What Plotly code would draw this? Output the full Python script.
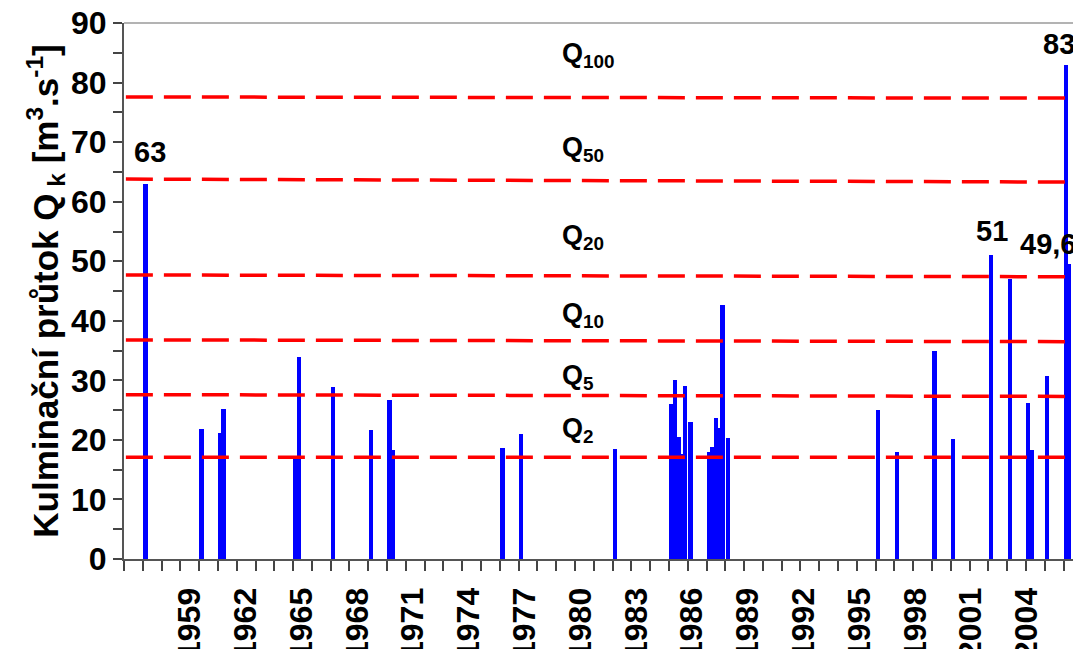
import plotly.graph_objects as go

# ---- data ----
event_dates = [1957.14, 1960.12, 1961.10, 1961.30, 1965.12, 1965.31, 1967.13,
               1969.13, 1970.13, 1970.33, 1976.14, 1977.14, 1982.14,
               1985.14, 1985.31, 1985.54, 1985.68, 1985.84, 1986.15,
               1987.14, 1987.32, 1987.50, 1987.66, 1987.85, 1988.15,
               1996.14, 1997.13, 1999.14, 2000.13, 2002.13, 2003.14,
               2004.11, 2004.31, 2005.13, 2006.13, 2006.29]
peak_flows = [63.0, 21.9, 21.2, 25.2, 16.8, 33.9, 28.9,
              21.7, 26.7, 18.3, 18.7, 21.0, 18.4,
              26.1, 30.0, 20.5, 17.7, 29.0, 23.0,
              18.0, 18.8, 23.6, 22.0, 42.6, 20.3,
              25.0, 17.9, 34.9, 20.2, 51.0, 47.1,
              26.2, 18.3, 30.8, 83.0, 49.6]

q_names = ["2", "5", "10", "20", "50", "100"]
q_left = [17.1, 27.6, 36.8, 47.7, 63.8, 77.6]
q_right = [17.1, 27.3, 36.5, 47.4, 63.3, 77.4]

year_labels = [1959, 1962, 1965, 1968, 1971, 1974, 1977, 1980, 1983,
               1986, 1989, 1992, 1995, 1998, 2001, 2004]

value_labels = ["63", "51", "49,6", "83"]
value_label_x = [1957.4, 2002.2, 2005.2, 2005.76]
value_label_y = [68.4, 55.1, 52.9, 86.5]

# ---- figure ----
# the page adds an 8 px body margin, so the figure is sized/offset to compensate
X0, X1 = 1956.0, 2006.93
FONT = "Liberation Sans"

fig = go.Figure()
fig.add_trace(go.Bar(x=event_dates, y=peak_flows, width=0.23,
                     marker=dict(color="#0000FF", line=dict(width=0)),
                     showlegend=False, hoverinfo="x+y"))

for name, yl, yr in zip(q_names, q_left, q_right):
    fig.add_trace(go.Scatter(x=[X0 + 0.1, X1], y=[yl, yr], mode="lines",
                             line=dict(color="#FF0000", width=3.5, dash="27px,11px"),
                             showlegend=False, hoverinfo="skip"))

q_label_y = [21.7, 30.6, 40.9, 54.1, 68.8, 84.6]
for name, ly in zip(q_names, q_label_y):
    fig.add_annotation(x=1979.2, y=ly, xref="x", yref="y", xanchor="left", yanchor="middle",
                       text="Q<sub>" + name + "</sub>", showarrow=False,
                       font=dict(family=FONT, size=27, color="black", weight="bold"))

for t, lx, ly in zip(value_labels, value_label_x, value_label_y):
    fig.add_annotation(x=lx, y=ly, xref="x", yref="y", xanchor="center", yanchor="middle",
                       text=t, showarrow=False,
                       font=dict(family=FONT, size=29, color="black", weight="bold"))

fig.add_shape(type="line", xref="paper", yref="paper", x0=0, x1=1, y0=1, y1=1,
              line=dict(color="#9A9A9A", width=1.5))

fig.update_layout(
    width=1073, height=641,
    margin=dict(l=116, r=0, t=15, b=90),
    paper_bgcolor="white", plot_bgcolor="white",
    barmode="overlay", bargap=0,
    xaxis=dict(range=[X0, X1], showgrid=False, zeroline=False, automargin=False,
               showline=True, linecolor="#555555", linewidth=2,
               tickmode="array", tickvals=[y + 0.5 - 0.45 * (y - 1959) / 45 for y in year_labels],
               ticktext=[str(y) for y in year_labels], ticks="",
               tickangle=-90, ticklabelstandoff=14, ticklabeloverflow="allow",
               tickfont=dict(family=FONT, size=32, color="black", weight="bold"),
               minor=dict(tick0=1956, dtick=1, ticks="outside", ticklen=10,
                          tickwidth=1.5, tickcolor="#444444", showgrid=False)),
    yaxis=dict(range=[0, 90.02], showgrid=False, zeroline=False, automargin=False,
               showline=True, linecolor="#555555", linewidth=2,
               tickmode="array", tickvals=[0, 10, 20, 30, 40, 50, 60, 70, 80, 90],
               ticks="outside", ticklen=9, tickwidth=1.5, ticklabeloverflow="allow",
               tickcolor="#444444",
               tickfont=dict(family=FONT, size=32, color="black", weight="bold"),
               minor=dict(tickvals=[5, 15, 25, 35, 45, 55, 65, 75, 85], ticks="outside",
                          ticklen=9, tickwidth=1.5, tickcolor="#444444", showgrid=False),
               title=dict(text="Kulminační průtok Q<sub> k</sub> [m<sup>3</sup>.s<sup>-1</sup>]",
                          font=dict(family=FONT, size=35, color="black", weight="bold"),
                          standoff=2)),
)

fig.write_html("out.html")
